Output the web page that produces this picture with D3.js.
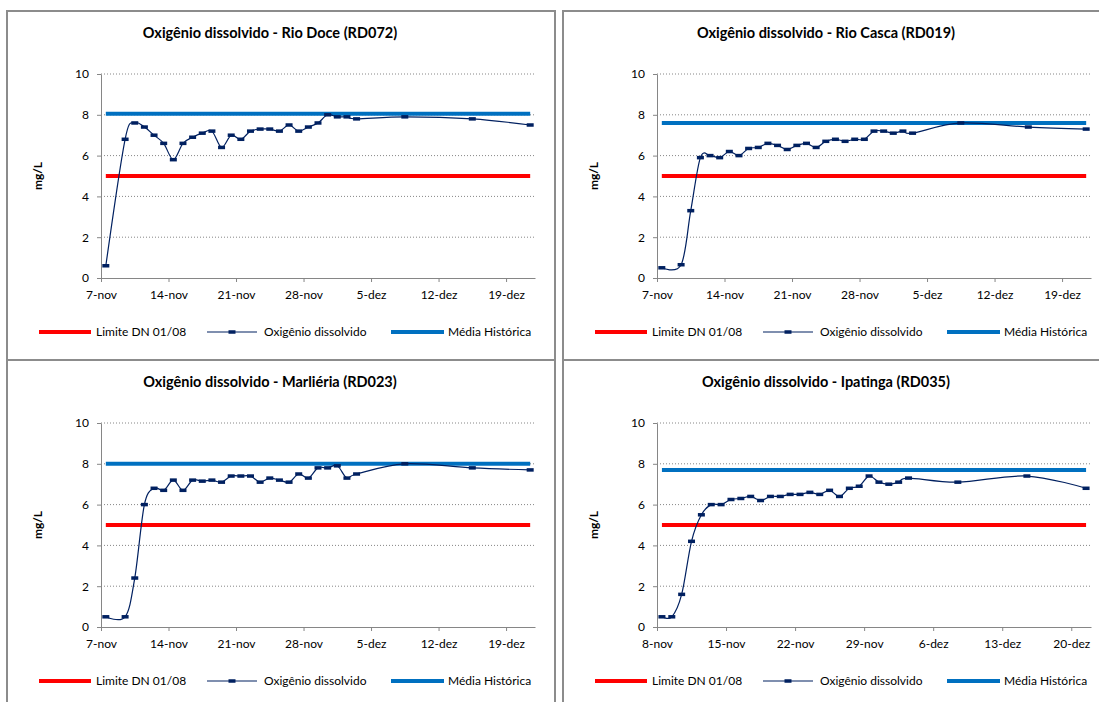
<!DOCTYPE html>
<html>
<head>
<meta charset="utf-8">
<script src="https://cdn.jsdelivr.net/npm/d3@7"></script>
<style>
  body { margin: 0; background: #fff; }
  text { font-family: Lato, "Liberation Sans", sans-serif; fill: #000; }
</style>
</head>
<body>
<div id="chart"></div>
<script>
// sampling dates (year 2015), dd/mm
const datesA = ["07/11","09/11","10/11","11/11","12/11","13/11","14/11","15/11","16/11","17/11",
  "18/11","19/11","20/11","21/11","22/11","23/11","24/11","25/11","26/11","27/11","28/11","29/11",
  "30/11","01/12","02/12","03/12","08/12","15/12","21/12"];
const datesB = ["08/11","09/11","10/11","11/11","12/11","13/11","14/11","15/11","16/11","17/11",
  "18/11","19/11","20/11","21/11","22/11","23/11","24/11","25/11","26/11","27/11","28/11","29/11",
  "30/11","01/12","02/12","03/12","08/12","15/12","21/12"];

// dissolved oxygen (mg/L)
const odRD072 = [0.6, 6.8, 7.6, 7.4, 7.0, 6.6, 5.8, 6.6, 6.9, 7.1, 7.2, 6.4, 7.0, 6.8, 7.2, 7.3, 7.3,
  7.2, 7.5, 7.2, 7.4, 7.6, 8.0, 7.9, 7.9, 7.8, 7.9, 7.8, 7.5];
const odRD019 = [0.5, 0.65, 3.3, 5.9, 6.0, 5.9, 6.2, 6.0, 6.35, 6.4, 6.6, 6.5, 6.3, 6.5, 6.6, 6.4, 6.7,
  6.8, 6.7, 6.8, 6.8, 7.2, 7.2, 7.1, 7.2, 7.1, 7.6, 7.4, 7.3];
const odRD023 = [0.5, 0.5, 2.4, 6.0, 6.8, 6.7, 7.2, 6.7, 7.2, 7.15, 7.2, 7.1, 7.4, 7.4, 7.4, 7.1, 7.3,
  7.2, 7.1, 7.5, 7.3, 7.8, 7.8, 7.9, 7.3, 7.5, 8.0, 7.8, 7.7];
const odRD035 = [0.5, 0.5, 1.6, 4.2, 5.5, 6.0, 6.0, 6.25, 6.3, 6.4, 6.2, 6.4, 6.4, 6.5, 6.5, 6.6, 6.5,
  6.7, 6.4, 6.8, 6.9, 7.4, 7.1, 7.0, 7.1, 7.3, 7.1, 7.4, 6.8];

const titles = ["Oxigênio dissolvido - Rio Doce (RD072)", "Oxigênio dissolvido - Rio Casca (RD019)",
  "Oxigênio dissolvido - Marliéria (RD023)", "Oxigênio dissolvido - Ipatinga (RD035)"];
const mediaHistorica = [8.05, 7.6, 8.0, 7.7];
const limiteDN = 5;
const axisStart = ["07/11", "07/11", "07/11", "08/11"];
const axisEnd = "22/12";
const yTicks = [0, 2, 4, 6, 8, 10];
const legendLabels = ["Limite DN 01/08", "Oxigênio dissolvido", "Média Histórica"];

const parse = s => d3.timeParse("%d/%m/%Y")(s + "/2015");
const months = ["jan","fev","mar","abr","mai","jun","jul","ago","set","out","nov","dez"];
const fmt = d => d.getDate() + "-" + months[d.getMonth()];

const stations = [
  {title: titles[0], dates: datesA, od: odRD072, media: mediaHistorica[0], start: axisStart[0], px: 7, py: 11},
  {title: titles[1], dates: datesA, od: odRD019, media: mediaHistorica[1], start: axisStart[1], px: 563, py: 11},
  {title: titles[2], dates: datesA, od: odRD023, media: mediaHistorica[2], start: axisStart[2], px: 7, py: 360},
  {title: titles[3], dates: datesB, od: odRD035, media: mediaHistorica[3], start: axisStart[3], px: 563, py: 360}
];

const svg = d3.select("#chart").append("svg")
  .attr("width", 1099).attr("height", 702);

const panelW = 548, panelH = 349;
const plotL = 94, plotT = 63, plotW = 434, plotH = 204;
const grey = "#868686";
const fs = "12px";

stations.forEach(st => {
  const g = svg.append("g").attr("transform", `translate(${st.px},${st.py})`);

  // panel border
  g.append("rect")
    .attr("x", 0).attr("y", 0).attr("width", panelW).attr("height", panelH)
    .attr("fill", "#fff").attr("stroke", "#8c8c8c").attr("stroke-width", 2);

  g.append("text")
    .attr("x", 263).attr("y", 27)
    .attr("text-anchor", "middle")
    .attr("font-size", "14.5px").attr("font-weight", "bold")
    .text(st.title);

  const p = g.append("g").attr("transform", `translate(${plotL},${plotT})`);

  const x = d3.scaleTime().domain([parse(st.start), parse(axisEnd)]).range([0, plotW]);
  const y = d3.scaleLinear().domain([0, 10]).range([plotH, 0]);
  const xc = d => x(d3.timeHour.offset(d, 12)); // points sit in the middle of the day

  // dotted gridlines
  p.selectAll(".grid").data(yTicks.filter(v => v > 0)).enter().append("line")
    .attr("x1", 0).attr("x2", plotW)
    .attr("y1", d => y(d)).attr("y2", d => y(d))
    .attr("stroke", grey).attr("stroke-width", 1).attr("stroke-dasharray", "1,2");

  // axes
  const yAxis = p.append("g").call(d3.axisLeft(y).tickValues(yTicks).tickSize(4).tickSizeOuter(0).tickPadding(8));
  const ticks = d3.timeDay.range(parse(st.start), parse(axisEnd), 7);
  const xAxis = p.append("g").attr("transform", `translate(0,${plotH})`)
    .call(d3.axisBottom(x).tickValues(ticks).tickFormat(fmt).tickSize(4).tickSizeOuter(0).tickPadding(8));
  [xAxis, yAxis].forEach(a => {
    a.select(".domain").attr("stroke", grey);
    a.selectAll(".tick line").attr("stroke", grey);
    a.selectAll(".tick text").attr("font-size", fs).attr("fill", "#000")
      .style("font-family", "Lato, 'Liberation Sans', sans-serif");
  });

  g.append("text")
    .attr("transform", `translate(35,${plotT + plotH / 2}) rotate(-90)`)
    .attr("text-anchor", "middle")
    .attr("font-size", fs).attr("font-weight", "bold")
    .text("mg/L");

  const data = st.dates.map((d, i) => ({date: parse(d), v: st.od[i]}));
  const first = data[0].date, last = data[data.length - 1].date;

  // limit and historical mean
  p.append("line")
    .attr("x1", xc(first)).attr("x2", xc(last))
    .attr("y1", y(limiteDN)).attr("y2", y(limiteDN))
    .attr("stroke", "#ff0000").attr("stroke-width", 4);
  p.append("line")
    .attr("x1", xc(first)).attr("x2", xc(last))
    .attr("y1", y(st.media)).attr("y2", y(st.media))
    .attr("stroke", "#0070c0").attr("stroke-width", 4);

  const line = d3.line()
    .x(d => xc(d.date)).y(d => y(d.v))
    .curve(d3.curveCatmullRom.alpha(0));

  p.append("path").datum(data)
    .attr("d", line)
    .attr("fill", "none").attr("stroke", "#002060").attr("stroke-width", 1.2);

  p.selectAll(".mk").data(data).enter().append("rect")
    .attr("x", d => xc(d.date) - 3.5).attr("y", d => y(d.v) - 1.75)
    .attr("width", 7).attr("height", 3.5)
    .attr("fill", "#002060");

  // legend
  const ly = 321;
  const lg = g.append("g");
  lg.append("line").attr("x1", 32).attr("x2", 84).attr("y1", ly).attr("y2", ly)
    .attr("stroke", "#ff0000").attr("stroke-width", 4);
  lg.append("text").attr("x", 89).attr("y", ly).attr("dy", "0.35em").attr("font-size", fs).text(legendLabels[0]);
  lg.append("line").attr("x1", 200).attr("x2", 250).attr("y1", ly).attr("y2", ly)
    .attr("stroke", "#002060").attr("stroke-width", 1.2);
  lg.append("rect").attr("x", 221.5).attr("y", ly - 1.75).attr("width", 7).attr("height", 3.5).attr("fill", "#002060");
  lg.append("text").attr("x", 257).attr("y", ly).attr("dy", "0.35em").attr("font-size", fs).text(legendLabels[1]);
  lg.append("line").attr("x1", 384).attr("x2", 437).attr("y1", ly).attr("y2", ly)
    .attr("stroke", "#0070c0").attr("stroke-width", 4);
  lg.append("text").attr("x", 441).attr("y", ly).attr("dy", "0.35em").attr("font-size", fs).text(legendLabels[2]);
});
</script>
</body>
</html>
